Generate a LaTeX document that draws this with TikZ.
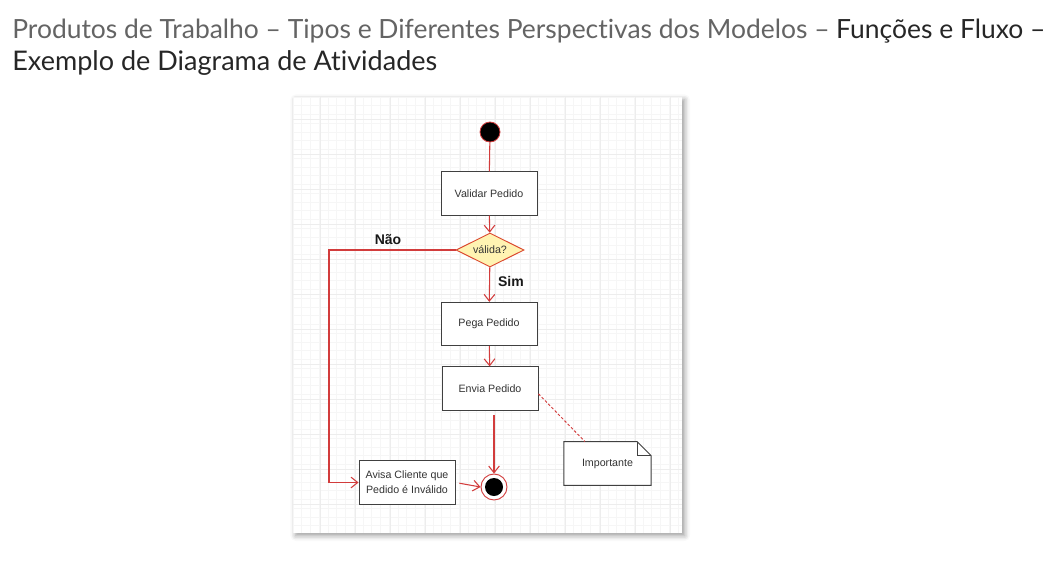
\documentclass[tikz,border=0pt]{standalone}
\usepackage{fontspec}
\setmainfont{Liberation Sans}
\newfontfamily\titlefont[Ligatures=NoCommon]{Lato}
\usetikzlibrary{arrows.meta,shapes.geometric,positioning,shadows.blur}

\definecolor{fluxo}{RGB}{210,60,60}
\definecolor{losango}{RGB}{255,243,178}
\definecolor{cinzatit}{RGB}{100,100,100}

\tikzset{
    acao/.style={draw=black!75, fill=white, line width=0.7pt, minimum width=72pt,
        minimum height=32.5pt, inner sep=1pt, align=center, text=black!80,
        font=\fontsize{8}{11}\selectfont},
    flow/.style={draw=fluxo, line width=0.8pt, -{Straight Barb[length=5pt,width=8pt]}},
    rotulo/.style={font=\fontsize{10.5}{12}\selectfont\bfseries, text=black!90, inner sep=0pt}
}

\begin{document}
\begin{tikzpicture}[x=0.75pt,y=-0.75pt]
    \useasboundingbox (0,0) rectangle (1062,571);

    % title
    \node[anchor=base west, inner sep=0pt] (titulo1) at (12,38)
        {\titlefont\resizebox{774.75pt}{!}{\color{cinzatit}Produtos de Trabalho – Tipos e Diferentes Perspectivas dos Modelos – \color{black!85}Funções e Fluxo –}};
    \node[anchor=base west, inner sep=0pt] (titulo2) at (12,70)
        {\titlefont\resizebox{318.75pt}{!}{\color{black!85}Exemplo de Diagrama de Atividades}};

    % panel with grid
    \fill[white, blur shadow={shadow xshift=2pt, shadow yshift=-2pt, shadow blur radius=4pt}] (293,97) rectangle (682,533);
    \begin{scope}
        \clip (293,97) rectangle (682,533);
        \foreach \gx in {0,...,47} {
            \draw[black!3.5, line width=0.4pt] (293+\gx*8.75,97) -- (293+\gx*8.75,533);
        }
        \foreach \gy in {0,...,51} {
            \draw[black!3.5, line width=0.4pt] (293,97+\gy*8.75) -- (682,97+\gy*8.75);
        }
        \foreach \gx in {0,...,11} {
            \draw[black!7, line width=0.6pt] (285+\gx*35,97) -- (285+\gx*35,533);
        }
        \foreach \gy in {0,...,12} {
            \draw[black!7, line width=0.6pt] (293,84+\gy*35) -- (682,84+\gy*35);
        }
    \end{scope}

    % start
    \node[circle, fill=black, draw=fluxo, line width=0.6pt, minimum size=15pt, inner sep=0pt] (inicio) at (490,132) {};

    % actions
    \node[acao] (validar) at (489,193.5) {Validar Pedido};
    \node[diamond, aspect=2, draw=fluxo!80!orange, fill=losango, line width=0.7pt, inner sep=0pt,
        minimum width=51pt, minimum height=25.5pt, text=black!80,
        font=\fontsize{8}{9}\selectfont] (valida) at (490,250) {válida?};
    \node[acao] (pega) at (489,324) {Pega Pedido};
    \node[acao] (envia) at (490,388.5) {Envia Pedido};
    \node[acao] (avisa) at (407,482.5) {Avisa Cliente que\\Pedido é Inválido};

    % end
    \node[circle, draw=fluxo, fill=white, line width=0.7pt, minimum size=19.5pt, inner sep=0pt] (fim) at (494,487) {};
    \node[circle, fill=black, minimum size=13.5pt, inner sep=0pt] (fimdot) at (fim) {};

    % note
    \node[minimum width=65pt, minimum height=32.5pt, inner sep=0pt] (nota) at (607.5,463.5) {};
    \draw[black!75, fill=white, line width=0.7pt] (nota.south west) -- (nota.north west)
        -- ([xshift=-10.5pt]nota.north east) -- ([yshift=-10.5pt]nota.north east)
        -- (nota.south east) -- cycle;
    \draw[black!75, line width=0.7pt] ([xshift=-10.5pt]nota.north east) -- ([xshift=-10.5pt,yshift=-10.5pt]nota.north east)
        -- ([yshift=-10.5pt]nota.north east);
    \node[text=black!80, font=\fontsize{8}{9}\selectfont] (notatxt) at (nota) {Importante};

    % flows
    \draw[draw=fluxo, line width=0.8pt] (inicio) -- (validar);
    \draw[flow] (validar) -- (valida);
    \draw[flow] (valida) -- (pega) node[rotulo, pos=0.4, right=6pt] {Sim};
    \coordinate (naocanto) at (329,250);
    \draw[flow] (valida.west) -- (naocanto) |- (avisa.west);
    \node[rotulo] (nao) at (388,240) {Não};
    \draw[flow] (pega) -- (envia);
    \draw[flow, shorten <=3.5pt] (envia.south -| fim) -- (fim.north);
    \draw[flow, shorten <=3pt] (avisa.east) -- (fim.west);
    \draw[fluxo, dash pattern=on 2pt off 1.5pt, line width=0.7pt] ([yshift=-4pt]envia.east) -- ([xshift=15.75pt]nota.north west);
\end{tikzpicture}
\end{document}
